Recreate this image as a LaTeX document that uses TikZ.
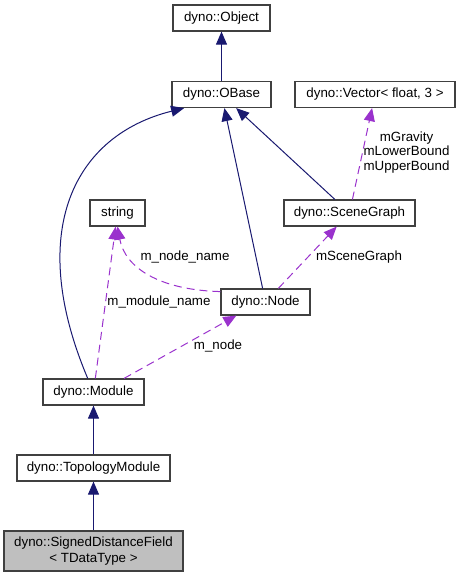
\documentclass[tikz,border=0pt]{standalone}
\usepackage{fontspec}
\setmainfont{Liberation Sans}
\usetikzlibrary{arrows.meta}
\definecolor{edgeblue}{HTML}{191970}
\definecolor{edgepurple}{HTML}{9A32CD}
\definecolor{boxgrey}{HTML}{BFBFBF}

\begin{document}
\begin{tikzpicture}[x=0.75pt,y=-0.75pt,
	box/.style={draw=black!75,fill=white,line width=0.9pt,inner sep=0pt,minimum height=19.5pt,font=\fontsize{10}{12}\selectfont},
	inherit/.style={edgeblue,line width=0.75pt,-{Triangle[length=9.75pt,width=8.25pt]}},
	uses/.style={edgepurple,line width=0.75pt,dash pattern=on 6pt off 3.75pt,-{Triangle[length=9.75pt,width=8.25pt]}},
	lbl/.style={font=\fontsize{10}{11}\selectfont,inner sep=0pt,align=center}]
\useasboundingbox (0,0) rectangle (460,577);

\node[box,minimum width=72.75pt] (obj) at (221.5,18) {dyno::Object};
\node[box,minimum width=74.25pt] (obase) at (221.5,94.5) {dyno::OBase};
\node[box,minimum width=120pt] (vec) at (375,94.5) {dyno::Vector< float, 3 >};
\node[box,minimum width=41.25pt] (str) at (117.5,213) {string};
\node[box,minimum width=98.25pt] (sg) at (349.5,213) {dyno::SceneGraph};
\node[box,minimum width=66.75pt] (node) at (265.5,302) {dyno::Node};
\node[box,minimum width=75.75pt] (module) at (93.5,392) {dyno::Module};
\node[box,minimum width=114.75pt] (topo) at (93.5,468) {dyno::TopologyModule};
\node[box,minimum width=134.25pt,minimum height=30pt,fill=boxgrey,align=center] (sdf) at (93.5,551) {dyno::SignedDistanceField\\< TDataType >};

\draw[inherit] (obase) -- (obj);
\draw[inherit] (module.113) .. controls (25,230) and (75,135) .. (obase.200);
\draw[inherit] (node) -- (obase);
\draw[inherit] (sg) -- (obase);
\draw[inherit] (topo) -- (module);
\draw[inherit] (sdf) -- (topo);

\draw[uses] (sg) -- (vec);
\draw[uses] (node) -- (sg);
\draw[uses] (node.167) .. controls (160,290) and (125,268) .. (str.south);
\draw[uses] (module) -- (str);
\draw[uses] (module.24) -- (node.205);

\node[lbl] (lvec) at (406.5,152.5) {mGravity\\mLowerBound\\mUpperBound};
\node[lbl] (lsg) at (359,257) {mSceneGraph};
\node[lbl] (lname) at (185,257) {m\_node\_name};
\node[lbl] (lmod) at (159,302) {m\_module\_name};
\node[lbl] (lnode) at (218,346) {m\_node};
\end{tikzpicture}
\end{document}
